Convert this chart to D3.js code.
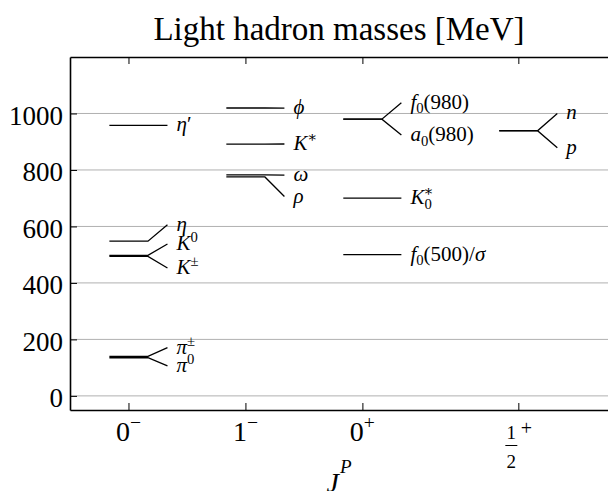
<!DOCTYPE html>
<meta charset="utf-8">
<script src="https://cdn.jsdelivr.net/npm/d3@7"></script>
<style>
body { margin: 0; background: #fff; }
svg text { font-family: "Liberation Serif", "DejaVu Serif", serif; fill: #000; }
</style>
<div id="chart"></div>
<script>

// J^P columns and where they sit on the x axis
var groups = ["0-", "1-", "0+", "1/2+"];
var groupPos = [0, 3, 6, 10];

// particles: column, mass (MeV), and where its label is put (MeV)
var names   = ["pi+-", "pi0", "K+-", "K0", "eta", "eta'", "rho", "omega", "K*", "phi", "f0(500)", "K0*", "a0(980)", "f0(980)", "p", "n"];
var groupOf = [0, 0, 0, 0, 0, 0, 1, 1, 1, 1, 2, 2, 2, 2, 3, 3];
var masses  = [139.57, 134.98, 493.68, 497.61, 547.86, 957.78, 775.26, 782.65, 891.67, 1019.46, 500, 700, 980, 980, 938.27, 939.57];
var labelAt = [171, 106, 453, 538, 606, 958, 706, 782, 892, 1019, 500, 700, 924, 1038, 879, 1000];

var yTicks = [0, 200, 400, 600, 800, 1000];

// how each label is typeset: [text, kind]
var labelParts = {
  "pi+-":    [["π", "i"], ["±", "sup"]],
  "pi0":     [["π", "i"], ["0", "sup"]],
  "K+-":     [["K", "i"], ["±", "sup"]],
  "K0":      [["K", "i"], ["0", "sup"]],
  "eta":     [["η", "i"]],
  "eta'":    [["η", "i"], ["′", "r"]],
  "rho":     [["ρ", "i"]],
  "omega":   [["ω", "i"]],
  "K*":      [["K", "i"], ["∗", "sup"]],
  "phi":     [["ϕ", "i"]],
  "f0(500)": [["f", "i"], ["0", "sub"], ["(500)/", "r"], ["σ", "i"]],
  "K0*":     [["K", "i"], ["0", "sub"], ["∗", "sup", -8]],
  "a0(980)": [["a", "i"], ["0", "sub"], ["(980)", "r"]],
  "f0(980)": [["f", "i"], ["0", "sub"], ["(980)", "r"]],
  "p":       [["p", "i"]],
  "n":       [["n", "i"]]
};

var W = 608, H = 491;
var mLeft = 70, mRight = 608, mTop = 57, mBottom = 410;

var svg = d3.select("#chart").append("svg")
    .attr("width", W)
    .attr("height", H);

var x = d3.scaleLinear().domain([-1.5, 12.3]).range([mLeft, mRight]);
var y = d3.scaleLinear().domain([-50, 1200]).range([mBottom, mTop]);

// writes text with sub/superscripts as tspans
function richText(sel, parts, size, supShift) {
  var shift = 0;
  parts.forEach(function(p) {
    var target = 0, fs = size;
    if (p[1] == "sup") { target = -(supShift || 0.38) * size; fs = 0.7 * size; }
    if (p[1] == "sub") { target = 0.22 * size; fs = 0.7 * size; }
    var t = sel.append("tspan").text(p[0])
        .attr("dy", target - shift)
        .attr("font-size", fs);
    if (p[1] == "i") t.attr("font-style", "italic");
    if (p[2]) t.attr("dx", p[2]);
    shift = target;
  });
}

// grid lines
svg.append("g")
  .selectAll("line")
  .data(yTicks)
  .enter().append("line")
    .attr("x1", mLeft)
    .attr("x2", mRight)
    .attr("y1", function(d) { return y(d); })
    .attr("y2", function(d) { return y(d); })
    .attr("stroke", "#b0b0b0")
    .attr("stroke-width", 1);

// particle levels
var idx = d3.range(names.length);
svg.append("g")
  .selectAll("path")
  .data(idx)
  .enter().append("path")
    .attr("d", function(i) {
      var g = groupPos[groupOf[i]];
      return "M" + x(g - 0.49) + "," + y(masses[i]) +
             "L" + x(g + 0.5) + "," + y(masses[i]) +
             "L" + x(g + 1) + "," + y(labelAt[i]);
    })
    .attr("fill", "none")
    .attr("stroke", "#000")
    .attr("stroke-width", 1.3);

svg.append("g")
  .selectAll("text")
  .data(idx)
  .enter().append("text")
    .attr("x", function(i) { return x(groupPos[groupOf[i]] + 1) + 9; })
    .attr("y", function(i) { return y(labelAt[i]) + 6; })
    .each(function(i) { richText(d3.select(this), labelParts[names[i]], 21); });

// axes, ticks pointing inward
var yAxis = svg.append("g")
    .attr("transform", "translate(" + mLeft + ",0)")
    .call(d3.axisLeft(y).tickValues(yTicks).tickFormat(d3.format("d"))
      .tickSizeInner(-7).tickSizeOuter(0).tickPadding(7));
yAxis.selectAll("text")
    .attr("font-family", null)
    .attr("font-size", 27)
    .attr("dy", "0.4em");

svg.append("g")
    .attr("transform", "translate(0," + mBottom + ")")
    .call(d3.axisBottom(x).tickValues(groupPos).tickSizeInner(-7).tickSizeOuter(0).tickFormat(""));

svg.append("g")
    .attr("transform", "translate(0," + mTop + ")")
    .call(d3.axisTop(x).tickValues(groupPos).tickSizeInner(-7).tickSizeOuter(0).tickFormat(""));

svg.selectAll(".domain").attr("stroke-width", 1.6);
svg.selectAll(".tick line").attr("stroke-width", 1);

// x tick labels
var tickParts = {
  "0-": [["0", "r"], ["−", "sup"]],
  "1-": [["1", "r"], ["−", "sup"]],
  "0+": [["0", "r"], ["+", "sup"]]
};
groups.forEach(function(g, i) {
  var cx = x(groupPos[i]);
  if (tickParts[g]) {
    svg.append("text")
      .attr("x", cx)
      .attr("y", mBottom + 31)
      .attr("text-anchor", "middle")
      .call(richText, tickParts[g], 28, 0.42);
  } else {
    // one half with a plus
    svg.append("text").attr("x", cx - 7).attr("y", mBottom + 29)
      .attr("text-anchor", "middle").attr("font-size", 19).text("1");
    svg.append("line")
      .attr("x1", cx - 13).attr("x2", cx - 1)
      .attr("y1", mBottom + 35.5).attr("y2", mBottom + 35.5)
      .attr("stroke", "#000").attr("stroke-width", 1);
    svg.append("text").attr("x", cx - 7).attr("y", mBottom + 58)
      .attr("text-anchor", "middle").attr("font-size", 19).text("2");
    svg.append("text").attr("x", cx + 8).attr("y", mBottom + 25)
      .attr("text-anchor", "middle").attr("font-size", 20).text("+");
  }
});

// axis title (J with superscript P, partly below the edge as in the original)
var jp = svg.append("text")
  .attr("x", (mLeft + mRight) / 2)
  .attr("y", 492)
  .attr("text-anchor", "middle");
jp.append("tspan").attr("font-style", "italic").attr("font-size", 28).text("J");
jp.append("tspan").attr("font-style", "italic").attr("font-size", 19)
  .attr("dx", 1).attr("dy", -19).text("P");

svg.append("text")
  .attr("x", (mLeft + mRight) / 2)
  .attr("y", 40)
  .attr("text-anchor", "middle")
  .attr("font-size", 33)
  .text("Light hadron masses [MeV]");

</script>
